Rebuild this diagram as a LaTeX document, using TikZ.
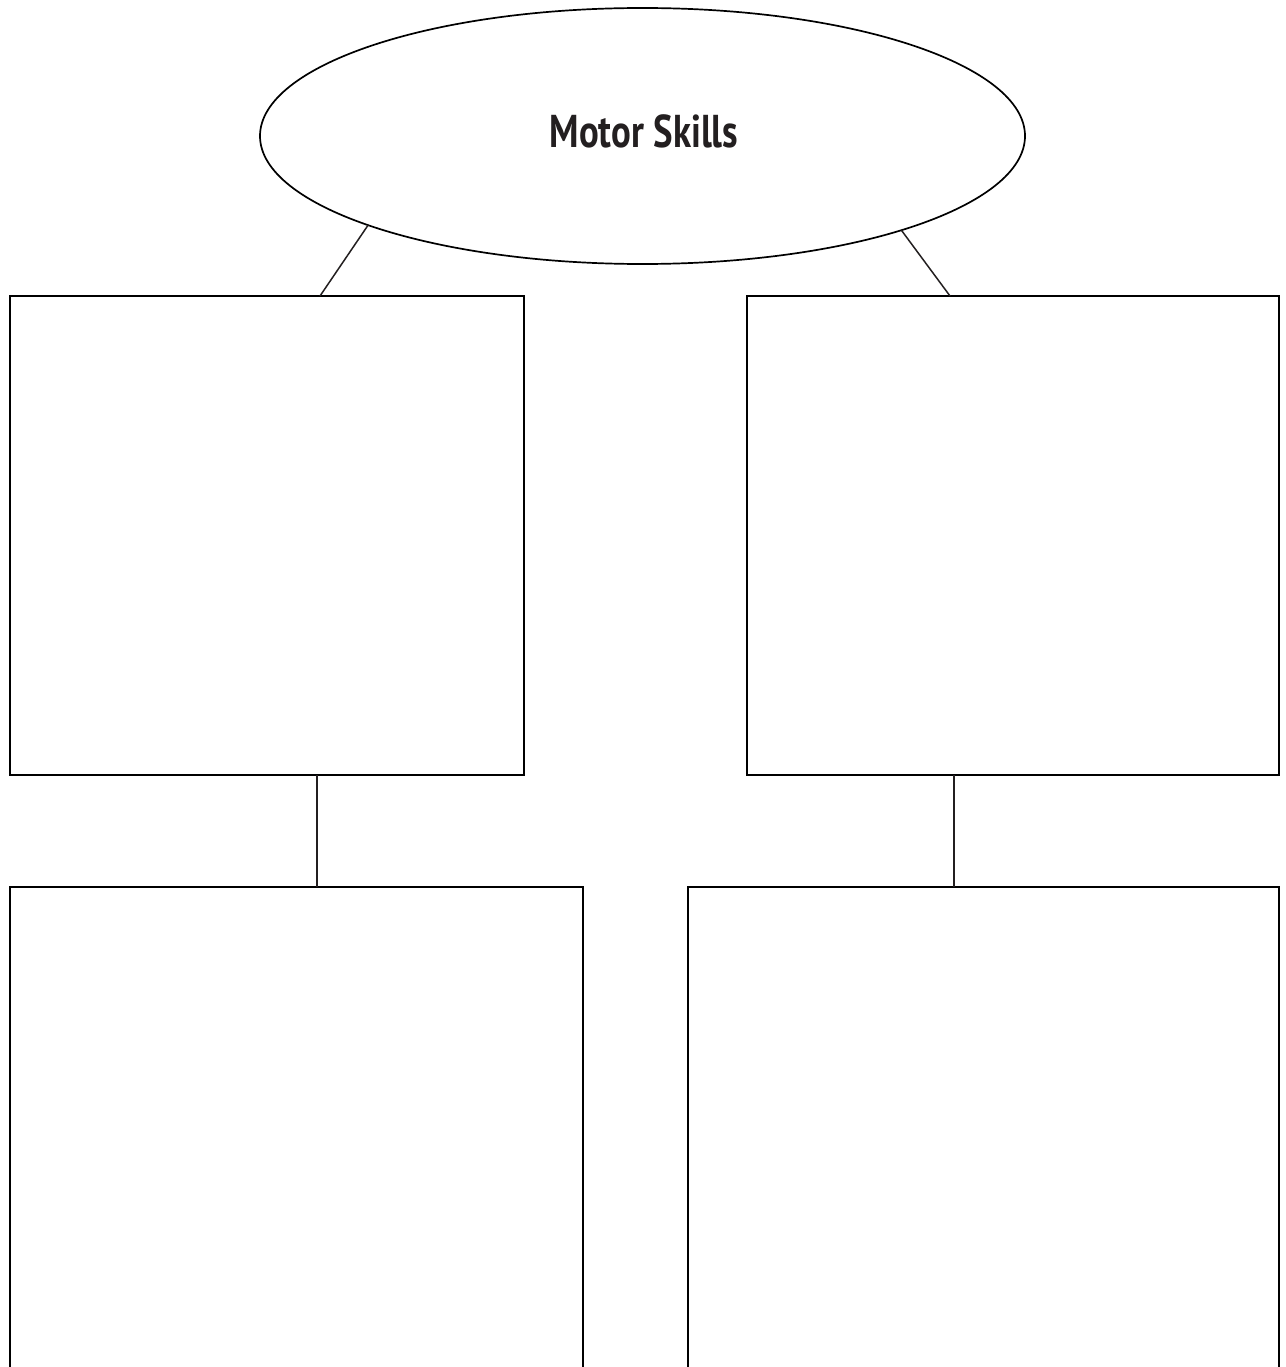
\documentclass[tikz,border=0pt]{standalone}
\usepackage{fontspec}
\newfontfamily\titlefont[FakeStretch=0.8]{PT Sans Bold}
\usetikzlibrary{shapes.geometric}
\tikzset{
  box/.style={draw, line width=1.7pt, rectangle, inner sep=0pt, outer sep=0pt, anchor=north west},
  link/.style={line width=1.5pt, draw={rgb,255:red,35;green,31;blue,32}},
}
\begin{document}
\begin{tikzpicture}[x=1pt,y=-1pt]
\useasboundingbox (0,0) rectangle (1285,1367);
\clip (0,0) rectangle (1285,1367);
\fill[white] (0,0) rectangle (1285,1367);
\node[draw, line width=1.7pt, ellipse, minimum width=765pt, minimum height=256pt, inner sep=0pt, outer sep=0pt] (ell) at (642.5,136) {};
\node[text={rgb,255:red,35;green,31;blue,32}, inner sep=0pt] (title) at (644,131) {\titlefont\fontsize{46}{50}\selectfont Motor Skills};
\node[box, minimum width=514pt, minimum height=479pt] (tl) at (10,296) {};
\node[box, minimum width=532pt, minimum height=479pt] (tr) at (747,296) {};
\node[box, minimum width=573pt, minimum height=520pt] (bl) at (10,887) {};
\node[box, minimum width=591pt, minimum height=520pt] (br) at (688,887) {};
\draw[link] (ell.198) -- ([xshift=310pt]tl.north west);
\draw[link] (ell.340.3) -- ([xshift=203pt]tr.north west);
\draw[link] ([xshift=307pt]tl.south west) -- ([xshift=307pt]bl.north west);
\draw[link] ([xshift=207pt]tr.south west) -- ([xshift=266pt]br.north west);
\end{tikzpicture}
\end{document}
